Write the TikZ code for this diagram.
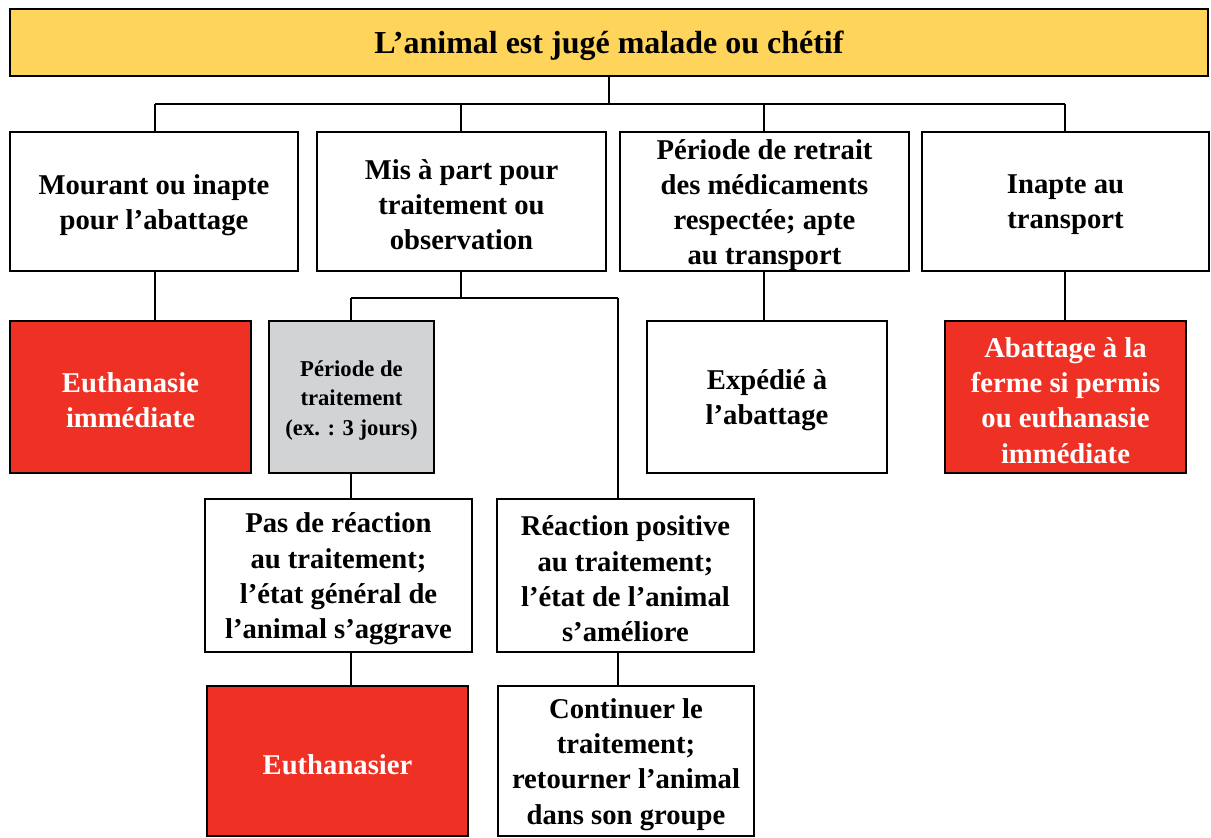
\documentclass[tikz,border=0pt]{standalone}
\usepackage{fontspec}
\setmainfont{Liberation Serif}
\definecolor{ytitle}{HTML}{FFD45A}
\definecolor{redbox}{HTML}{EE3124}
\definecolor{greybox}{HTML}{D1D3D4}
\begin{document}
\begin{tikzpicture}[x=0.75pt,y=-0.75pt,
  box/.style={draw=black, line width=2pt, fill=white, inner sep=0pt},
  redb/.style={box, fill=redbox},
  greyb/.style={box, fill=greybox},
  titleb/.style={box, fill=ytitle},
  lab/.style={inner sep=0pt, align=center, yshift=-2.6pt,
    font=\fontsize{21.5}{26.4}\selectfont\bfseries},
  wlab/.style={lab, text=white},
  slab/.style={lab, font=\fontsize{17}{22}\selectfont\bfseries},
  tlab/.style={lab, font=\fontsize{24}{28}\selectfont\bfseries},
  conn/.style={draw=black, line width=1.5pt}]
\useasboundingbox (0,0) rectangle (1211,838);
% boxes
\node[titleb, minimum width=0.75*1198pt, minimum height=0.75*67pt] (top) at (609,42.5) {};
\node[box, minimum width=0.75*288pt, minimum height=0.75*139pt] (m1) at (154,201.5) {};
\node[box, minimum width=0.75*289pt, minimum height=0.75*139pt] (m2) at (461.5,201.5) {};
\node[box, minimum width=0.75*289pt, minimum height=0.75*139pt] (m3) at (764.5,201.5) {};
\node[box, minimum width=0.75*287pt, minimum height=0.75*139pt] (m4) at (1065.5,201.5) {};
\node[redb, minimum width=0.75*241pt, minimum height=0.75*152pt] (e1) at (130.5,397) {};
\node[greyb, minimum width=0.75*165pt, minimum height=0.75*152pt] (pt) at (351.5,397) {};
\node[box, minimum width=0.75*240pt, minimum height=0.75*152pt] (ex) at (767,397) {};
\node[redb, minimum width=0.75*241pt, minimum height=0.75*152pt] (ab) at (1065.5,397) {};
\node[box, minimum width=0.75*267pt, minimum height=0.75*153pt] (pr) at (338.5,575.5) {};
\node[box, minimum width=0.75*257pt, minimum height=0.75*153pt] (rp) at (625.5,575.5) {};
\node[redb, minimum width=0.75*261pt, minimum height=0.75*150pt] (eu) at (337.5,761) {};
\node[box, minimum width=0.75*256pt, minimum height=0.75*150pt] (ct) at (626,761) {};
% texts
\node[tlab] (topt) at (top.center) {L’animal est jugé malade ou chétif};
\node[lab] (m1t) at (m1.center) {Mourant ou inapte\\pour l’abattage};
\node[lab] (m2t) at (m2.center) {Mis à part pour\\traitement ou\\observation};
\node[lab] (m3t) at (m3.center) {Période de retrait\\des médicaments\\respectée; apte\\au transport};
\node[lab] (m4t) at (m4.center) {Inapte au\\transport};
\node[wlab] (e1t) at (e1.center) {Euthanasie\\immédiate};
\node[slab] (ptt) at (pt.center) {Période de\\traitement\\(ex. : 3 jours)};
\node[lab] (ext) at (ex.center) {Expédié à\\l’abattage};
\node[wlab] (abt) at (ab.center) {Abattage à la\\ferme si permis\\ou euthanasie\\immédiate};
\node[lab] (prt) at (pr.center) {Pas de réaction\\au traitement;\\l’état général de\\l’animal s’aggrave};
\node[lab] (rpt) at (rp.center) {Réaction positive\\au traitement;\\l’état de l’animal\\s’améliore};
\node[wlab] (eut) at (eu.center) {Euthanasier};
\node[lab] (ctt) at (ct.center) {Continuer le\\traitement;\\retourner l’animal\\dans son groupe};
% connectors
\coordinate (bus) at (609,104);
\coordinate (busL) at (155,104);
\coordinate (busR) at (1065,104);
\coordinate (b2) at (461,104);
\coordinate (b3) at (764,104);
\draw[conn] (top.south) -- (bus);
\draw[conn] (busL) -- (busR);
\draw[conn] (busL) -- (busL |- m1.north);
\draw[conn] (b2) -- (b2 |- m2.north);
\draw[conn] (b3) -- (b3 |- m3.north);
\draw[conn] (busR) -- (busR |- m4.north);
\draw[conn] (busL |- m1.south) -- (busL |- e1.north);
\coordinate (sub) at (461,298);
\coordinate (subL) at (351,298);
\coordinate (subR) at (618,298);
\draw[conn] (sub |- m2.south) -- (sub);
\draw[conn] (subL) -- (subR);
\draw[conn] (subL) -- (subL |- pt.north);
\draw[conn] (subR) -- (subR |- rp.north);
\draw[conn] (subL |- pt.south) -- (subL |- pr.north);
\draw[conn] (subL |- pr.south) -- (subL |- eu.north);
\draw[conn] (subR |- rp.south) -- (subR |- ct.north);
\draw[conn] (b3 |- m3.south) -- (b3 |- ex.north);
\draw[conn] (busR |- m4.south) -- (busR |- ab.north);
\end{tikzpicture}
\end{document}
